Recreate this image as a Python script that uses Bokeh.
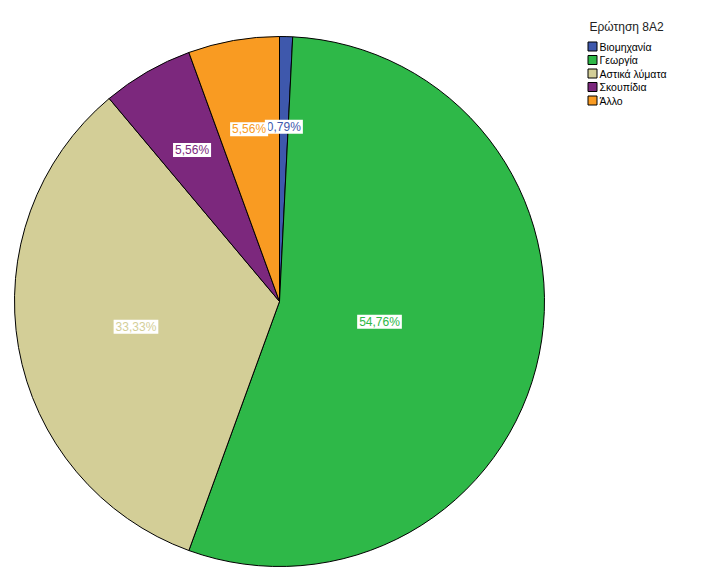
import math
from bokeh.plotting import figure
from bokeh.models import Range1d, ColumnDataSource
from bokeh.core.properties import value
from bokeh.embed import file_html
from bokeh.resources import INLINE

# ---- data ----
categories = ["Βιομηχανία", "Γεωργία", "Αστικά λύματα", "Σκουπίδια", "Άλλο"]
counts = [1, 69, 42, 7, 7]
pct_labels = ["0,79%", "54,76%", "33,33%", "5,56%", "5,56%"]
colors = ["#3E58AC", "#2EB848", "#D3CE97", "#7C287D", "#F99B22"]
legend_title = "Ερώτηση 8Α2"

# ---- layout (pixel space) ----
W, H = 725, 580
cx, cy, R = 279, H - 301, 265
label_frac = [0.66, 0.385, 0.55, 0.66, 0.66]

total = sum(counts)
starts, ends, lx, ly = [], [], [], []
acc = 0.0
for c, f in zip(counts, label_frac):
    a0 = math.pi / 2 - 2 * math.pi * acc / total
    acc += c
    a1 = math.pi / 2 - 2 * math.pi * acc / total
    starts.append(a0)
    ends.append(a1)
    mid = (a0 + a1) / 2
    lx.append(cx + f * R * math.cos(mid))
    ly.append(cy + f * R * math.sin(mid))

src = ColumnDataSource(dict(start=starts, end=ends, color=colors,
                            lx=lx, ly=ly, lab=pct_labels))

p = figure(width=W, height=H, output_backend="svg", toolbar_location=None,
           x_range=Range1d(0, W), y_range=Range1d(0, H), min_border=0)
p.axis.visible = False
p.grid.visible = False
p.outline_line_color = None
p.background_fill_color = "white"

p.wedge(x=cx, y=cy, radius=R, start_angle="start", end_angle="end",
        direction="clock", fill_color="color", line_color="black",
        line_width=1, source=src)

p.text(x="lx", y="ly", text="lab", source=src, text_color="color",
       text_font=value("Liberation Sans"), text_font_size="12px",
       text_align="center", text_baseline="middle",
       background_fill_color="white",
       padding=dict(left=2, right=2, top=0, bottom=0))

# legend
p.text(x=[589], y=[H - 26], text=[legend_title], text_color="#222222",
       text_font=value("Liberation Sans"), text_font_size="12px",
       text_align="left", text_baseline="middle")
ys = [H - (46 + 13.5 * i) for i in range(len(categories))]
p.rect(x=[592] * len(categories), y=ys, width=9, height=9,
       fill_color=colors, line_color="black", line_width=1)
p.text(x=[599] * len(categories), y=ys, text=categories, text_color="black",
       text_font=value("Liberation Sans"), text_font_size="10.5px",
       text_align="left", text_baseline="middle")

open("out.html", "w").write(file_html(p, INLINE))
